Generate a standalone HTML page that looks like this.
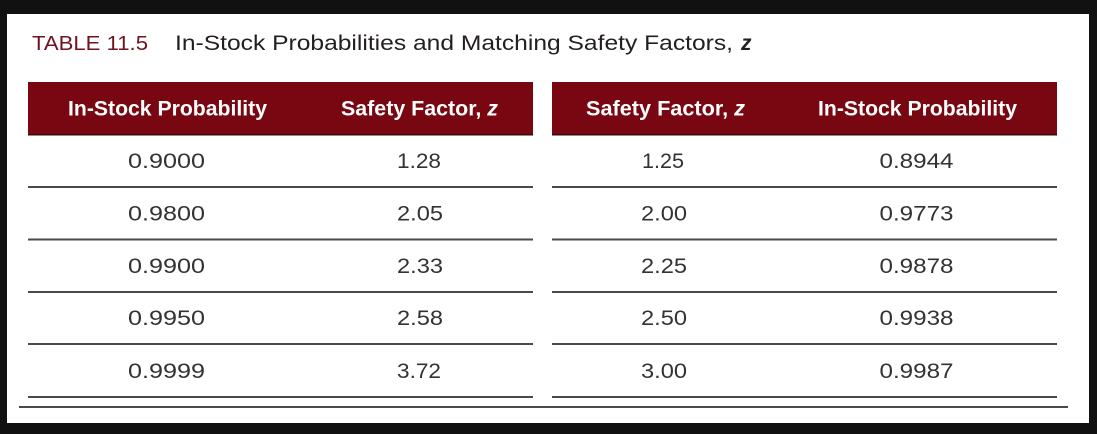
<!DOCTYPE html>
<html>
<head>
<meta charset="utf-8">
<style>
  html,body{margin:0;padding:0;background:#111111;}
  body{width:1097px;height:434px;overflow:hidden;}
  svg{display:block;}
  .t{font-family:"Liberation Sans",sans-serif;}
</style>
</head>
<body>
<svg width="1097" height="434" viewBox="0 0 1097 434" xmlns="http://www.w3.org/2000/svg">
  <rect x="0" y="0" width="1097" height="434" fill="#111111"/>
  <rect x="7" y="14" width="1082" height="409" fill="#ffffff"/>

  <!-- Title -->
  <text class="t" x="32" y="50" font-size="20.5" fill="#6e1520" textLength="116" lengthAdjust="spacingAndGlyphs">TABLE 11.5</text>
  <text class="t" x="175" y="50" font-size="21" fill="#231f20" textLength="558" lengthAdjust="spacingAndGlyphs">In-Stock Probabilities and Matching Safety Factors,</text>
  <text class="t" x="741" y="50" font-size="21" fill="#231f20" font-weight="bold" font-style="italic">z</text>

  <!-- Headers -->
  <rect x="28" y="82" width="505" height="53" fill="#780712"/>
  <rect x="552" y="82" width="505" height="53" fill="#780712"/>
  <rect x="28" y="134" width="505" height="1.5" fill="#3a0a0e"/>
  <rect x="552" y="134" width="505" height="1.5" fill="#3a0a0e"/>

  <g class="t" font-size="21" font-weight="bold" fill="#ffffff">
    <text x="68" y="115.5" textLength="199" lengthAdjust="spacingAndGlyphs">In-Stock Probability</text>
    <text x="341" y="115.5" textLength="157" lengthAdjust="spacingAndGlyphs">Safety Factor, <tspan font-style="italic">z</tspan></text>
    <text x="586" y="115.5" textLength="159" lengthAdjust="spacingAndGlyphs">Safety Factor, <tspan font-style="italic">z</tspan></text>
    <text x="818" y="115.5" textLength="199" lengthAdjust="spacingAndGlyphs">In-Stock Probability</text>
  </g>

  <!-- Row separators -->
  <g fill="#4a4a4a">
    <rect x="28" y="186" width="505" height="2"/>
    <rect x="552" y="186" width="505" height="2"/>
    <rect x="28" y="238.5" width="505" height="2"/>
    <rect x="552" y="238.5" width="505" height="2"/>
    <rect x="28" y="291" width="505" height="2"/>
    <rect x="552" y="291" width="505" height="2"/>
    <rect x="28" y="343" width="505" height="2"/>
    <rect x="552" y="343" width="505" height="2"/>
    <rect x="28" y="396" width="505" height="2"/>
    <rect x="552" y="396" width="505" height="2"/>
    <rect x="19" y="406" width="1049" height="2"/>
  </g>

  <!-- Data -->
  <g class="t" font-size="21" fill="#333333" text-anchor="middle">
    <text x="166.5" y="168" textLength="77" lengthAdjust="spacingAndGlyphs">0.9000</text>
    <text x="419" y="168" textLength="44" lengthAdjust="spacingAndGlyphs">1.28</text>
    <text x="663" y="168" textLength="42" lengthAdjust="spacingAndGlyphs">1.25</text>
    <text x="916.5" y="168" textLength="74" lengthAdjust="spacingAndGlyphs">0.8944</text>

    <text x="166.5" y="220.5" textLength="77" lengthAdjust="spacingAndGlyphs">0.9800</text>
    <text x="420" y="220.5" textLength="46" lengthAdjust="spacingAndGlyphs">2.05</text>
    <text x="664" y="220.5" textLength="46" lengthAdjust="spacingAndGlyphs">2.00</text>
    <text x="916.5" y="220.5" textLength="74" lengthAdjust="spacingAndGlyphs">0.9773</text>

    <text x="166.5" y="273" textLength="77" lengthAdjust="spacingAndGlyphs">0.9900</text>
    <text x="420" y="273" textLength="46" lengthAdjust="spacingAndGlyphs">2.33</text>
    <text x="664" y="273" textLength="46" lengthAdjust="spacingAndGlyphs">2.25</text>
    <text x="916.5" y="273" textLength="74" lengthAdjust="spacingAndGlyphs">0.9878</text>

    <text x="166.5" y="325" textLength="77" lengthAdjust="spacingAndGlyphs">0.9950</text>
    <text x="420" y="325" textLength="46" lengthAdjust="spacingAndGlyphs">2.58</text>
    <text x="664" y="325" textLength="46" lengthAdjust="spacingAndGlyphs">2.50</text>
    <text x="916.5" y="325" textLength="74" lengthAdjust="spacingAndGlyphs">0.9938</text>

    <text x="166.5" y="378" textLength="77" lengthAdjust="spacingAndGlyphs">0.9999</text>
    <text x="419" y="378" textLength="44" lengthAdjust="spacingAndGlyphs">3.72</text>
    <text x="664" y="378" textLength="46" lengthAdjust="spacingAndGlyphs">3.00</text>
    <text x="916.5" y="378" textLength="74" lengthAdjust="spacingAndGlyphs">0.9987</text>
  </g>
</svg>
</body>
</html>
